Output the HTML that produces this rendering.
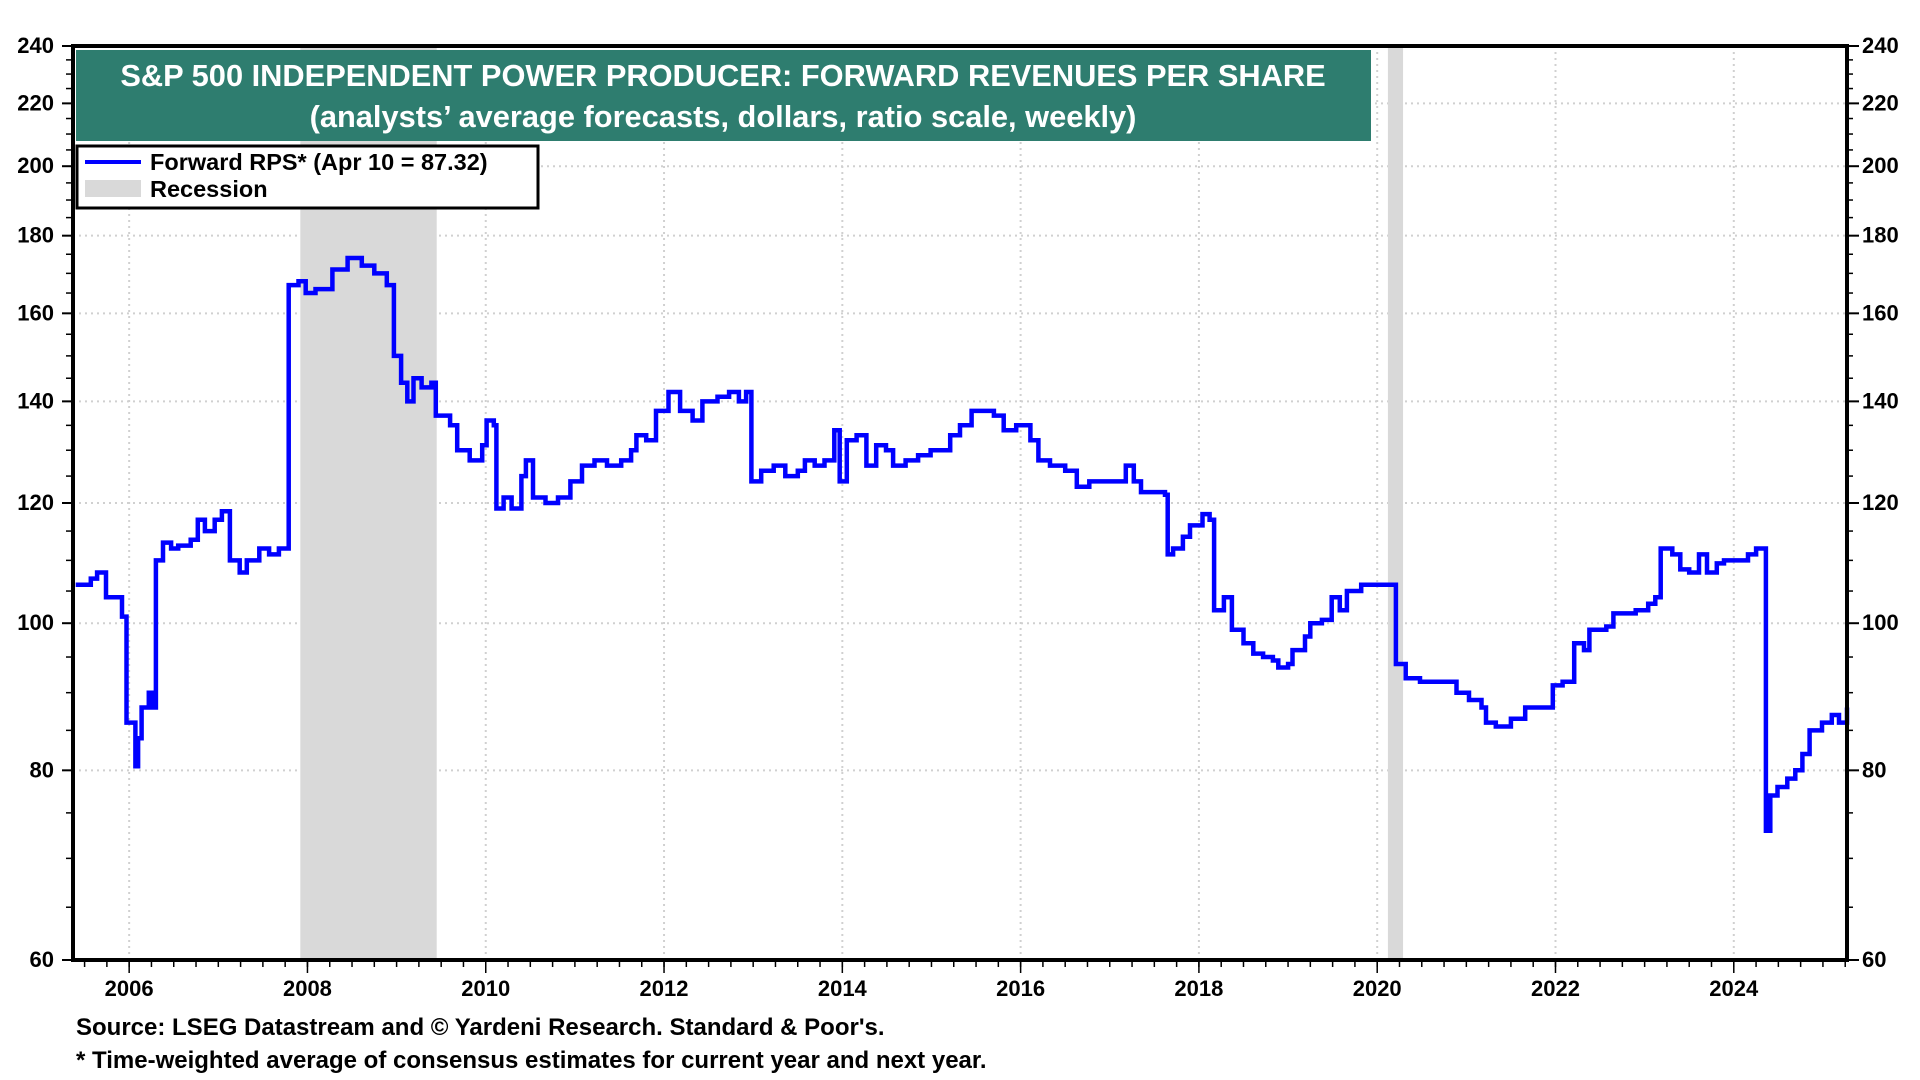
<!DOCTYPE html>
<html><head><meta charset="utf-8"><style>
html,body{margin:0;padding:0;background:#fff;}
svg{display:block;font-family:"Liberation Sans",Arial,sans-serif;font-weight:bold;}
</style></head><body>
<svg id="chart" width="1920" height="1080" viewBox="0 0 1920 1080" xmlns="http://www.w3.org/2000/svg">
<g id="grid"></g>
<g id="recessions"></g>
<g id="series"></g>
<g id="axes"></g>
<rect x="76" y="50" width="1295" height="91" fill="#2e7d6f"/>
<text x="723" y="86" fill="#fff" font-size="30.8" text-anchor="middle">S&amp;P 500 INDEPENDENT POWER PRODUCER: FORWARD REVENUES PER SHARE</text>
<text x="723" y="127" fill="#fff" font-size="30.8" text-anchor="middle">(analysts’ average forecasts, dollars, ratio scale, weekly)</text>
<g>
<rect x="77" y="146" width="461" height="62" fill="#fff" stroke="#000" stroke-width="3"/>
<line x1="85" y1="162" x2="141" y2="162" stroke="#0000ff" stroke-width="4"/>
<text x="150" y="170" font-size="23.5">Forward RPS* (Apr 10 = 87.32)</text>
<rect x="85" y="180" width="56" height="17" fill="#d9d9d9"/>
<text x="150" y="197" font-size="23.5">Recession</text>
</g>
<text x="76" y="1035" font-size="24">Source: LSEG Datastream and © Yardeni Research. Standard &amp; Poor's.</text>
<text x="76" y="1068" font-size="24">* Time-weighted average of consensus estimates for current year and next year.</text>
</svg>
<script>
const dates=[2005.40,2005.57,2005.64,2005.74,2005.92,2005.97,2006.07,2006.10,2006.14,2006.22,2006.27,2006.30,2006.38,2006.47,2006.55,2006.69,2006.77,2006.85,2006.96,2007.04,2007.13,2007.24,2007.32,2007.46,2007.57,2007.68,2007.76,2007.79,2007.90,2007.98,2008.09,2008.17,2008.28,2008.45,2008.61,2008.75,2008.89,2008.97,2009.05,2009.12,2009.19,2009.28,2009.39,2009.44,2009.60,2009.68,2009.82,2009.96,2010.01,2010.09,2010.12,2010.20,2010.29,2010.40,2010.45,2010.53,2010.67,2010.81,2010.95,2011.08,2011.22,2011.36,2011.52,2011.63,2011.69,2011.80,2011.91,2012.05,2012.18,2012.32,2012.43,2012.60,2012.73,2012.84,2012.92,2012.98,2013.09,2013.23,2013.36,2013.50,2013.58,2013.69,2013.80,2013.91,2013.97,2014.05,2014.16,2014.27,2014.38,2014.49,2014.57,2014.71,2014.85,2014.99,2015.12,2015.21,2015.32,2015.45,2015.59,2015.70,2015.81,2015.95,2016.03,2016.11,2016.20,2016.33,2016.50,2016.63,2016.77,2016.91,2017.05,2017.18,2017.27,2017.35,2017.51,2017.62,2017.65,2017.71,2017.82,2017.90,2018.04,2018.12,2018.17,2018.28,2018.37,2018.50,2018.61,2018.72,2018.83,2018.89,2019.00,2019.05,2019.19,2019.25,2019.38,2019.49,2019.58,2019.66,2019.82,2020.02,2020.18,2020.21,2020.32,2020.48,2020.76,2020.89,2021.03,2021.17,2021.22,2021.33,2021.50,2021.66,2021.88,2021.97,2022.08,2022.21,2022.32,2022.38,2022.57,2022.65,2022.90,2023.04,2023.12,2023.18,2023.31,2023.40,2023.50,2023.61,2023.70,2023.81,2023.89,2024.05,2024.16,2024.25,2024.33,2024.36,2024.41,2024.49,2024.60,2024.69,2024.77,2024.85,2024.99,2025.10,2025.18,2025.27];
const rps=[106,107,108,104,101,86,80.5,84,88,90,88,110,113,112,112.5,113.5,117,115,117,118.5,110,108,110,112,111,112,112,167,168,165,166,166,171,174,172,170,167,150,144,140,145,143,144,137,135,130,128,131,136,135,119,121,119,125,128,121,120,121,124,127,128,127,128,130,133,132,138,142,138,136,140,141,142,140,142,124,126,127,125,126,128,127,128,134,124,132,133,127,131,130,127,128,129,130,130,133,135,138,138,137,134,135,135,132,128,127,126,123,124,124,124,127,124,122,122,121.5,111,112,114,116,118,117,102,104,99,97,95.5,95,94.5,93.5,94,96,98,100,100.5,104,102,105,106,106,106,94,92,91.5,91.5,90,89,88,86,85.5,86.5,88,88,91,91.5,97,96,99,99.5,101.5,102,103,104,112,111,108.5,108,111,108,109.5,110,110,111,112,112,73,77,78,79,80,82,85,86,87,86,88];
const recessionStarts=[2007.92,2020.12];
const recessionEnds=[2009.45,2020.29];
const yTicks=[60,80,100,120,140,160,180,200,220,240];
const xTickYears=[2006,2008,2010,2012,2014,2016,2018,2020,2022,2024];

const NS="http://www.w3.org/2000/svg";
const L=73,R=1847,T=46,B=960,X0=2005.37,X1=2025.27,YMIN=60,YMAX=240;
function xs(t){return L+(t-X0)/(X1-X0)*(R-L);}
function ys(v){return B-Math.log(v/YMIN)/Math.log(YMAX/YMIN)*(B-T);}
function mk(tag,attrs,parent){const e=document.createElementNS(NS,tag);for(const k in attrs)e.setAttribute(k,attrs[k]);parent.appendChild(e);return e;}
const grid=document.getElementById('grid'),rec=document.getElementById('recessions'),ser=document.getElementById('series'),ax=document.getElementById('axes');

yTicks.forEach(v=>{
  const g=mk('line',{x1:L,x2:R,y1:ys(v),y2:ys(v),stroke:'#d0d0d0','stroke-width':2,'stroke-dasharray':'2 4'},grid);
  
  
  const a=mk('text',{x:54,y:ys(v)+7,'font-size':22,'text-anchor':'end'},ax);a.textContent=v;
  
  
  const b=mk('text',{x:1862,y:ys(v)+7,'font-size':22},ax);b.textContent=v;
  
  
  mk('line',{x1:62,x2:L,y1:ys(v),y2:ys(v),stroke:'#000','stroke-width':2},ax);
  mk('line',{x1:R,x2:R+12,y1:ys(v),y2:ys(v),stroke:'#000','stroke-width':2},ax);
});
for(let v=65;v<240;v+=5){if(v%20===0)continue;
  mk('line',{x1:66,x2:L,y1:ys(v),y2:ys(v),stroke:'#000','stroke-width':1.5},ax);
  mk('line',{x1:R,x2:R+6,y1:ys(v),y2:ys(v),stroke:'#000','stroke-width':1.5},ax);}
xTickYears.forEach(yr=>{
  const g=mk('line',{x1:xs(yr),x2:xs(yr),y1:T,y2:B,stroke:'#d0d0d0','stroke-width':2,'stroke-dasharray':'2 4'},grid);
  
  
  const t=mk('text',{x:xs(yr),y:996,'font-size':22,'text-anchor':'middle'},ax);t.textContent=yr;
  
  
  mk('line',{x1:xs(yr),x2:xs(yr),y1:B,y2:B+13,stroke:'#000','stroke-width':1.5},ax);
});
for(let q=2005.5;q<X1;q+=0.25){mk('line',{x1:xs(q),x2:xs(q),y1:B,y2:B+7,stroke:'#000','stroke-width':1.5},ax);}
recessionStarts.forEach((s,i)=>{
  const r=mk('rect',{x:xs(s),y:T,width:xs(recessionEnds[i])-xs(s),height:B-T,fill:'#d9d9d9'},rec);
  
  
});
let d='M'+xs(dates[0]).toFixed(1)+','+ys(rps[0]).toFixed(1);
for(let i=1;i<dates.length;i++){d+=' H'+xs(dates[i]).toFixed(1)+' V'+ys(rps[i]).toFixed(1);}
const p=mk('path',{d:d,fill:'none',stroke:'#0000ff','stroke-width':4.5,'stroke-linejoin':'miter'},ser);


const fr=mk('rect',{x:L,y:T,width:R-L,height:B-T,fill:'none',stroke:'#000','stroke-width':4},ax);


</script>
</body></html>
